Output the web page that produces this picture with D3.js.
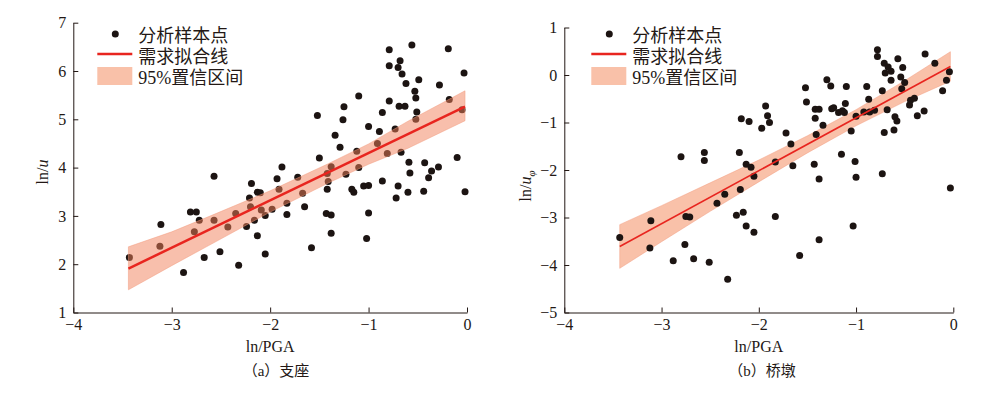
<html>
  <head>
    <meta charset="utf-8">
    <title>ln PGA fits</title>
    <script src="https://cdn.jsdelivr.net/npm/d3@7/dist/d3.min.js"></script>
    <style>
      body { margin: 0; background: #ffffff; }
      text { fill: #231815; }
    </style>
  </head>
  <body>
    <svg width="1008" height="396" id="mainsvg"></svg>
    <script>
        // ---- data ----
        // (a) 支座
        const leftX = [-3.43,-3.12,-3.11,-2.88,-2.81,-2.75,-2.72,-2.77,-2.67,-2.57,
            -2.57,-2.51,-2.43,-2.35,-2.32,-2.24,-2.21,-2.19,-2.20,-2.16,
            -2.13,-2.13,-2.10,-2.09,-2.05,-2.05,-1.98,-1.93,-1.91,-1.88,
            -1.83,-1.83,-1.72,-1.67,-1.65,-1.58,-1.52,-1.50,-1.43,-1.42,
            -1.41,-1.42,-1.38,-1.38,-1.38,-1.34,-1.29,-1.26,-1.25,-1.23,
            -1.17,-1.15,-1.12,-1.10,-1.10,-1.05,-1.02,-1.00,-1.00,-1.00,
            -0.91,-0.89,-0.86,-0.86,-0.81,-0.79,-0.79,-0.79,-0.73,-0.72,
            -0.70,-0.70,-0.68,-0.69,-0.67,-0.66,-0.63,-0.62,-0.60,-0.59,
            -0.58,-0.56,-0.53,-0.52,-0.51,-0.52,-0.49,-0.44,-0.43,-0.39,
            -0.36,-0.29,-0.28,-0.19,-0.18,-0.10,-0.05,-0.03,-0.02];
        const leftY = [2.14,2.37,2.82,1.83,3.08,3.08,2.91,2.67,2.14,3.82,
            2.91,2.26,2.77,3.05,1.98,2.78,3.37,3.67,3.19,2.91,
            2.59,3.49,3.48,3.12,3.01,2.21,3.14,3.77,3.55,4.01,
            3.26,3.03,3.80,3.47,3.19,2.34,5.08,4.20,3.05,3.55,
            3.71,3.88,4.02,3.02,2.64,4.67,4.42,4.99,5.26,3.86,
            3.55,3.49,4.34,5.48,4.00,3.62,2.53,3.63,3.06,4.85,
            4.50,4.75,5.14,3.72,4.29,6.44,6.11,5.38,4.80,3.37,
            3.62,6.07,6.21,5.27,4.32,5.94,5.27,5.74,3.49,4.11,
            3.89,6.54,5.58,5.44,5.15,5.00,5.82,3.51,4.10,3.79,
            3.93,4.01,5.71,6.46,5.41,4.21,5.20,5.96,3.50];
        const leftFitX = [-3.44, -0.02];
        const leftFitY = [1.91, 5.26];
        const leftBandX  = [-3.44, -3.0, -2.63, -2.0, -1.41, -1.0, -0.6, -0.02];
        const leftBandLo = [1.47, 1.97, 2.38, 3.08, 3.68, 4.07, 4.40, 4.97];
        const leftBandHi = [2.36, 2.67, 2.98, 3.52, 4.08, 4.49, 4.96, 5.59];
        const leftYTicks = [1, 2, 3, 4, 5, 6, 7];

        // (b) 桥墩
        const rightX = [-3.43,-3.11,-3.12,-2.88,-2.80,-2.76,-2.75,-2.71,-2.67,-2.56,
            -2.56,-2.51,-2.43,-2.35,-2.32,-2.23,-2.20,-2.19,-2.18,-2.16,
            -2.13,-2.13,-2.10,-2.08,-2.05,-2.05,-1.97,-1.93,-1.91,-1.89,
            -1.83,-1.83,-1.72,-1.67,-1.65,-1.58,-1.52,-1.51,-1.43,-1.42,
            -1.42,-1.41,-1.38,-1.38,-1.38,-1.34,-1.30,-1.26,-1.25,-1.23,
            -1.18,-1.15,-1.14,-1.12,-1.11,-1.10,-1.05,-1.03,-1.01,-1.00,
            -1.00,-0.92,-0.89,-0.87,-0.86,-0.81,-0.78,-0.78,-0.73,-0.73,
            -0.71,-0.70,-0.71,-0.68,-0.67,-0.64,-0.64,-0.61,-0.60,-0.58,
            -0.57,-0.54,-0.53,-0.52,-0.50,-0.45,-0.44,-0.40,-0.37,-0.30,
            -0.29,-0.19,-0.11,-0.07,-0.04,-0.03];
        const rightY = [-3.42,-3.07,-3.64,-3.91,-1.72,-3.57,-2.98,-2.99,-3.87,-1.63,
            -1.80,-3.94,-2.70,-2.51,-4.30,-2.95,-1.63,-2.41,-0.92,-2.89,
            -1.88,-3.18,-0.98,-1.94,-2.13,-3.31,-1.12,-0.65,-0.86,-1.00,
            -1.83,-2.98,-1.22,-1.45,-1.91,-3.80,-0.27,-0.57,-1.88,-0.72,
            -0.91,-1.25,-0.72,-2.19,-3.47,-1.06,-0.10,-0.23,-0.71,-0.69,
            -0.79,-1.67,-0.75,-0.79,-0.60,-0.24,-1.18,-3.18,-1.82,-0.87,
            -2.15,-0.78,-0.24,-0.51,-0.78,-0.74,0.53,0.39,-0.33,-2.08,
            0.25,0.04,-1.21,-0.73,0.17,0.08,-0.11,-1.16,-0.88,-0.97,
            0.34,-0.04,-0.29,0.16,-0.16,-0.63,-0.53,-0.49,-0.86,-0.76,
            0.44,0.25,-0.33,-0.11,0.07,-2.38];
        const rightFitX = [-3.43, -0.03];
        const rightFitY = [-3.61, 0.18];
        const rightBandX  = [-3.43, -3.0, -2.5, -2.0, -1.5, -1.0, -0.5, -0.03];
        const rightBandLo = [-4.07, -3.51, -2.87, -2.25, -1.64, -1.07, -0.56, -0.13];
        const rightBandHi = [-3.15, -2.75, -2.27, -1.79, -1.28, -0.73, -0.12, 0.49];
        const rightYTicks = [-5, -4, -3, -2, -1, 0, 1];

        const xTicks = [-4, -3, -2, -1, 0];
        const legendNames = ['分析样本点', '需求拟合线', '95%置信区间'];

        const serif = '"Liberation Serif", "Times New Roman", "DejaVu Serif", serif';
        const mixed = '"Liberation Serif", "Times New Roman", "Noto Sans CJK SC", serif';

        const svg = d3.select('#mainsvg');
        const dotColor = '#1c1412';
        const lineColor = '#e8251f';
        const bandColor = '#f9c1a9';

        const drawPanel = function(cfg){
            const xScale = d3.scaleLinear().domain([-4, 0]).range([cfg.left, cfg.right]);
            const yScale = d3.scaleLinear().domain(cfg.yDomain).range([cfg.bottom, cfg.top]);
            const g = svg.append('g');

            const pts = cfg.xs.map((x, i) => ({x: x, y: cfg.ys[i]}));
            const band = cfg.bandX.map((x, i) => ({x: x, lo: cfg.bandLo[i], hi: cfg.bandHi[i]}));
            const fit = cfg.fitX.map((x, i) => ({x: x, y: cfg.fitY[i]}));

            const area = d3.area()
                .x(d => xScale(d.x))
                .y0(d => yScale(d.lo))
                .y1(d => yScale(d.hi));

            const drawBand = function(op){
                g.append('path')
                .datum(band)
                .attr('d', area)
                .attr('fill', cfg.bandFill)
                .attr('fill-opacity', op)
                .attr('stroke', '#f29a7c')
                .attr('stroke-opacity', 0.6)
                .attr('stroke-width', 0.8);
            };

            // band under the dots on (b), over them on (a)
            if(!cfg.bandOnTop) drawBand(1);

            g.selectAll('.dot').data(pts).enter().append('circle')
            .attr('class', 'dot')
            .attr('cx', d => xScale(d.x))
            .attr('cy', d => yScale(d.y))
            .attr('r', 3.5)
            .attr('fill', dotColor);

            if(cfg.bandOnTop) drawBand(0.5);

            g.append('path')
            .datum(fit)
            .attr('d', d3.line().x(d => xScale(d.x)).y(d => yScale(d.y)))
            .attr('fill', 'none')
            .attr('stroke', lineColor)
            .attr('stroke-width', cfg.lineWidth);

            // axes, ticks pointing inward
            const fmt = d3.format('d');
            const xAxis = d3.axisBottom(xScale).tickValues(xTicks).tickFormat(fmt)
                .tickSize(-5).tickSizeOuter(0).tickPadding(6);
            const yAxis = d3.axisLeft(yScale).tickValues(cfg.yTicks).tickFormat(fmt)
                .tickSize(-5).tickSizeOuter(0).tickPadding(7);

            const xg = g.append('g')
            .attr('transform', `translate(0, ${cfg.bottom})`)
            .call(xAxis);
            const yg = g.append('g')
            .attr('transform', `translate(${cfg.left}, 0)`)
            .call(yAxis);
            [xg, yg].forEach(ax => {
                ax.attr('color', '#231815');
                ax.selectAll('text')
                .attr('font-family', serif)
                .attr('font-size', 16)
                .style('fill', '#231815');
            });

            // x label + caption
            g.append('text')
            .attr('x', (cfg.left + cfg.right) / 2)
            .attr('y', 352)
            .attr('text-anchor', 'middle')
            .attr('font-family', serif)
            .attr('font-size', 16)
            .text('ln/PGA');
            g.append('text')
            .attr('x', cfg.captionX)
            .attr('y', 376)
            .attr('text-anchor', 'middle')
            .attr('font-family', mixed)
            .attr('font-size', 15)
            .text(cfg.caption);

            // y label
            const yl = g.append('text')
            .attr('transform', `translate(${cfg.yLabelX}, ${cfg.yLabelY}) rotate(-90)`)
            .attr('text-anchor', 'middle')
            .attr('font-family', serif)
            .attr('font-size', 16);
            yl.append('tspan').text('ln/');
            yl.append('tspan').attr('font-style', 'italic').text('u');
            if(cfg.sub){
                yl.append('tspan').attr('font-style', 'italic').attr('font-size', 11)
                .attr('dy', 4).text(cfg.sub);
            }

            // legend
            const lx = cfg.left + cfg.legendDx;
            g.append('circle')
            .attr('cx', lx + 18).attr('cy', 34).attr('r', 3.5)
            .attr('fill', dotColor);
            g.append('line')
            .attr('x1', lx).attr('x2', lx + 35)
            .attr('y1', 54).attr('y2', 54)
            .attr('stroke', lineColor).attr('stroke-width', 2.5);
            g.append('rect')
            .attr('x', lx).attr('y', 67)
            .attr('width', 35).attr('height', 18)
            .attr('fill', bandColor);
            g.selectAll('.legend_text').data(legendNames).enter().append('text')
            .attr('class', 'legend_text')
            .attr('x', lx + 41)
            .attr('y', (d, i) => [35, 56.5, 77.5][i] + 6.5)
            .attr('font-family', mixed)
            .attr('font-size', 18)
            .text(d => d);
        };

        drawPanel({
            xs: leftX, ys: leftY,
            fitX: leftFitX, fitY: leftFitY,
            bandX: leftBandX, bandLo: leftBandLo, bandHi: leftBandHi,
            yDomain: [1, 7], yTicks: leftYTicks,
            left: 73.3, right: 467, top: 22.7, bottom: 312.5,
            bandFill: '#f2805a', bandOnTop: true, lineWidth: 2.5,
            caption: '（a）支座', captionX: 276,
            yLabelX: 48, yLabelY: 172, sub: null,
            legendDx: 24
        });

        drawPanel({
            xs: rightX, ys: rightY,
            fitX: rightFitX, fitY: rightFitY,
            bandX: rightBandX, bandLo: rightBandLo, bandHi: rightBandHi,
            yDomain: [-5, 1], yTicks: rightYTicks,
            left: 564.3, right: 953.3, top: 27.5, bottom: 312.5,
            bandFill: bandColor, bandOnTop: false, lineWidth: 1.6,
            caption: '（b）桥墩', captionX: 762,
            yLabelX: 531, yLabelY: 186, sub: 'φ',
            legendDx: 27
        });
    </script>
  </body>
</html>
